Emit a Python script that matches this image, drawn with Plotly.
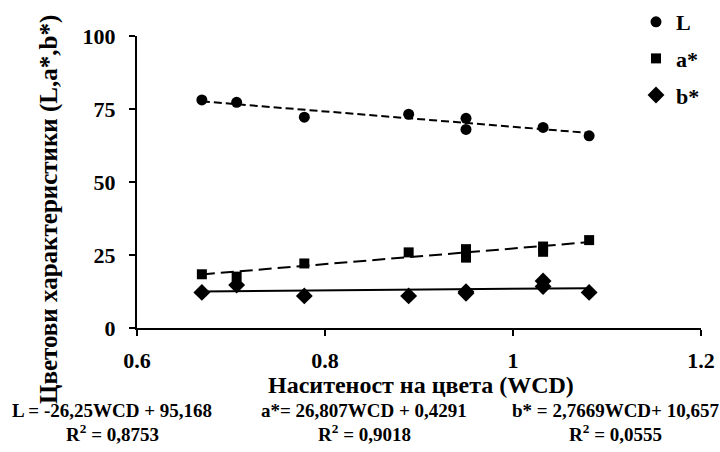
import plotly.graph_objects as go
import numpy as np

# ---- data ----
wcd_L = [0.669, 0.706, 0.778, 0.889, 0.950, 0.950, 1.032, 1.081]
L_vals = [78.1, 77.3, 72.2, 73.2, 71.8, 68.0, 68.7, 65.8]

wcd_a = [0.669, 0.706, 0.778, 0.889, 0.950, 0.950, 1.032, 1.032, 1.081]
a_vals = [18.4, 17.6, 22.1, 25.9, 27.0, 24.1, 27.9, 26.1, 30.1]

wcd_b = [0.669, 0.706, 0.778, 0.889, 0.950, 0.950, 1.032, 1.032, 1.081]
b_vals = [12.2, 14.7, 11.0, 11.0, 12.4, 11.9, 16.1, 14.2, 12.2]

series_names = ["L", "a*", "b*"]
slopes = [-26.25, 26.807, 2.7669]
intercepts = [95.168, 0.4291, 10.657]
equation_lines = [
    "L = -26,25WCD + 95,168",
    "a*= 26,807WCD + 0,4291",
    "b* = 2,7669WCD+ 10,657",
]
r2_lines = [
    "R<sup>2</sup> = 0,8753",
    "R<sup>2</sup> = 0,9018",
    "R<sup>2</sup> = 0,0555",
]
x_ticks = [0.6, 0.8, 1.0, 1.2]
x_tick_labels = ["0.6", "0.8", "1", "1.2"]
y_ticks = [0, 25, 50, 75, 100]

FONT = "Liberation Serif"
L_M, R_M, T_M, B_M = 137, 19, 36, 124
PW, PH = 720 - L_M - R_M, 452 - T_M - B_M

def px_x(px):
    return (px - L_M) / PW

def px_y(py):
    return (452 - B_M - py) / PH

fig = go.Figure()

xs_all = [wcd_L, wcd_a, wcd_b]
ys_all = [L_vals, a_vals, b_vals]
symbols = ["circle", "square", "diamond"]
msizes = [11, 10, 13]
dashes = ["8px,4px", "13px,6px", "solid"]

for i in range(3):
    xmin, xmax = min(xs_all[i]), max(xs_all[i])
    xl = np.array([xmin, xmax])
    fig.add_trace(go.Scatter(
        x=xl, y=slopes[i] * xl + intercepts[i], mode="lines",
        line=dict(color="black", width=2, dash=dashes[i]),
        showlegend=False, hoverinfo="skip"))

for i in range(3):
    fig.add_trace(go.Scatter(
        x=xs_all[i], y=ys_all[i], mode="markers", name=series_names[i],
        marker=dict(symbol=symbols[i], size=msizes[i], color="black"),
        legendgroup=series_names[i]))

fig.update_layout(
    width=720, height=452,
    margin=dict(l=L_M, r=R_M, t=T_M, b=B_M, autoexpand=False),
    plot_bgcolor="white", paper_bgcolor="white",
    font=dict(family=FONT, size=22, color="black"),
    showlegend=True,
    legend=dict(x=px_x(636), y=px_y(1), xanchor="left", yanchor="top",
                font=dict(family=FONT, size=22, color="black", weight="bold"),
                tracegroupgap=5, itemwidth=30, bgcolor="rgba(0,0,0,0)"),
    xaxis=dict(range=[0.6, 1.2], tickvals=x_ticks, ticktext=x_tick_labels,
               showgrid=False, zeroline=False, showline=True, linecolor="black",
               linewidth=2, ticks="outside", ticklen=6, tickwidth=2, tickcolor="black",
               ticklabelstandoff=6,
               tickfont=dict(family=FONT, size=22, weight="bold")),
    yaxis=dict(range=[0, 100], tickvals=y_ticks,
               showgrid=False, zeroline=False, showline=True, linecolor="black",
               linewidth=2, ticks="outside", ticklen=6, tickwidth=2, tickcolor="black",
               ticklabelstandoff=9,
               tickfont=dict(family=FONT, size=22, weight="bold")),
)

# axis titles
fig.add_annotation(x=px_x(421), y=px_y(385), xref="paper", yref="paper",
                   xanchor="center", yanchor="middle", showarrow=False,
                   text="Наситеност на цвета (WCD)",
                   font=dict(family=FONT, size=24, weight="bold"))
fig.add_annotation(x=px_x(49), y=px_y(210), xref="paper", yref="paper",
                   xanchor="center", yanchor="middle", showarrow=False,
                   textangle=-90,
                   text="Цветови характеристики (L,a*,b*)",
                   font=dict(family=FONT, size=25, weight="bold"))

eq_px = [112, 364, 615]
for i in range(3):
    fig.add_annotation(
        x=px_x(eq_px[i]), y=px_y(410), xref="paper", yref="paper",
        xanchor="center", yanchor="middle", showarrow=False,
        text=equation_lines[i],
        font=dict(family=FONT, size=19, color="black", weight="bold"))
    fig.add_annotation(
        x=px_x(eq_px[i]), y=px_y(433), xref="paper", yref="paper",
        xanchor="center", yanchor="middle", showarrow=False,
        text=r2_lines[i],
        font=dict(family=FONT, size=19, color="black", weight="bold"))

fig.write_html("out.html", config={"displayModeBar": False},
               post_script="document.body.style.margin='0';")
